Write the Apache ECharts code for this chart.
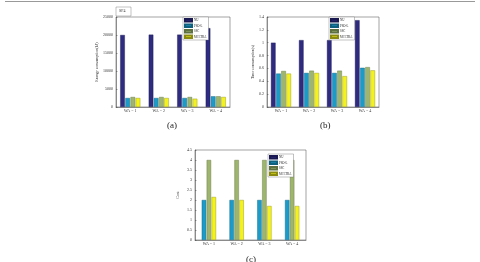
<!DOCTYPE html>
<html><head><meta charset="utf-8">
<script src="https://cdn.jsdelivr.net/npm/echarts@6/dist/echarts.min.js"></script>
<style>html,body{margin:0;padding:0;background:#fff}#c{width:480px;height:262px}</style>
</head><body><div id="c"></div>
<script>
var categories = ['WA = 1','WA = 2','WA = 3','WA = 4'];
var seriesNames = ['NU','PSO-L','SSC','MCCFRA'];
var energyNU  = [20000, 20100, 20100, 21900];
var energyPSO = [2500, 2500, 2500, 2970];
var energySSC = [2780, 2780, 2780, 2970];
var energyMCC = [2500, 2500, 2300, 2780];
var timeNU  = [1.0, 1.04, 1.04, 1.35];
var timePSO = [0.52, 0.53, 0.53, 0.61];
var timeSSC = [0.56, 0.565, 0.565, 0.62];
var timeMCC = [0.52, 0.53, 0.48, 0.57];
var costPSO = [2, 2, 2, 2];
var costSSC = [4, 4, 4, 4];
var costMCC = [2.15, 2.0, 1.7, 1.7];
var energyTicks = {min:0, max:25000, interval:5000};
var timeTicks = {min:0, max:1.4, interval:0.2};
var costTicks = {min:0, max:4.5, interval:0.5};

var colors = ['#2e2b80','#1c9bc9','#9db56c','#f3f21c'];
var edges  = ['#1a1850','#0f5f7e','#5f7040','#8a8a10'];
var font = 'Liberation Serif';

var grids = [
  {left:116, top:17, width:114, height:90},
  {left:267, top:17, width:112, height:90},
  {left:195, top:150, width:111, height:90}
];
function xAx(i){return {type:'category', gridIndex:i, data:categories,
  axisLine:{lineStyle:{color:'#444',width:0.5}}, axisTick:{show:false},
  axisLabel:{fontFamily:font,fontSize:4,color:'#333',margin:2}};}
function yAx(i,t,name,gap){return {type:'value', gridIndex:i, min:t.min, max:t.max, interval:t.interval,
  name:name, nameLocation:'middle', nameGap:gap, nameTextStyle:{fontFamily:font,fontSize:4,color:'#333'},
  axisLine:{show:true,lineStyle:{color:'#444',width:0.5}}, axisTick:{show:true,inside:true,length:1.5,lineStyle:{width:0.5}},
  splitLine:{show:false}, axisLabel:{fontFamily:font,fontSize:4,color:'#333',margin:3,
    formatter:function(v){return String(Math.round(v*1000)/1000);}}};}
function bar(name,idx,data,g,w){return {type:'bar', name:name, xAxisIndex:g, yAxisIndex:g, data:data,
  barWidth:w, barGap:'12%', itemStyle:{color:colors[idx], borderColor:edges[idx], borderWidth:0.4}};}
function legend(left,top){return {left:left, top:top, orient:'vertical', itemWidth:7, itemHeight:2.5, itemGap:1,
  padding:[1,2,1,1], borderColor:'#666', borderWidth:0.4, backgroundColor:'#fff', icon:'rect',
  textStyle:{fontFamily:font,fontSize:3,color:'#222',padding:[0,0,0,-3]}, data:seriesNames, selectedMode:false};}

var chart = echarts.init(document.getElementById('c'));
chart.setOption({
  animation:false,
  grid: grids.map(function(g){return Object.assign({show:true,borderColor:'#444',borderWidth:0.5,backgroundColor:'#fff'},g);}),
  xAxis:[xAx(0),xAx(1),xAx(2)],
  yAxis:[yAx(0,energyTicks,'Energy consumption(kJ)',13), yAx(1,timeTicks,'Time consumption(s)',10), yAx(2,costTicks,'Cost',15)],
  legend:[legend(183,17), legend(329,17), legend(268,154)],
  series:[
    bar(seriesNames[0],0,energyNU,0,4.6), bar(seriesNames[1],1,energyPSO,0,4.6), bar(seriesNames[2],2,energySSC,0,4.6), bar(seriesNames[3],3,energyMCC,0,4.6),
    bar(seriesNames[0],0,timeNU,1,4.6), bar(seriesNames[1],1,timePSO,1,4.6), bar(seriesNames[2],2,timeSSC,1,4.6), bar(seriesNames[3],3,timeMCC,1,4.6),
    bar(seriesNames[1],1,costPSO,2,4.4), bar(seriesNames[2],2,costSSC,2,4.4), bar(seriesNames[3],3,costMCC,2,4.4)
  ],
  graphic:[
    {type:'line', shape:{x1:5,y1:1.5,x2:475,y2:1.5}, style:{stroke:'#999',lineWidth:1}},
    {type:'rect', shape:{x:116,y:7,width:15,height:9}, style:{fill:'#fff',stroke:'#666',lineWidth:0.4}},
    {type:'text', left:119, top:9, style:{text:'SF4',font:'4px Liberation Serif',fill:'#333'}},
    {type:'text', left:167, top:121, style:{text:'(a)',font:'9px Liberation Serif',fill:'#222'}},
    {type:'text', left:320, top:121, style:{text:'(b)',font:'9px Liberation Serif',fill:'#222'}},
    {type:'text', left:246, top:255, style:{text:'(c)',font:'9px Liberation Serif',fill:'#222'}}
  ]
});
</script></body></html>
